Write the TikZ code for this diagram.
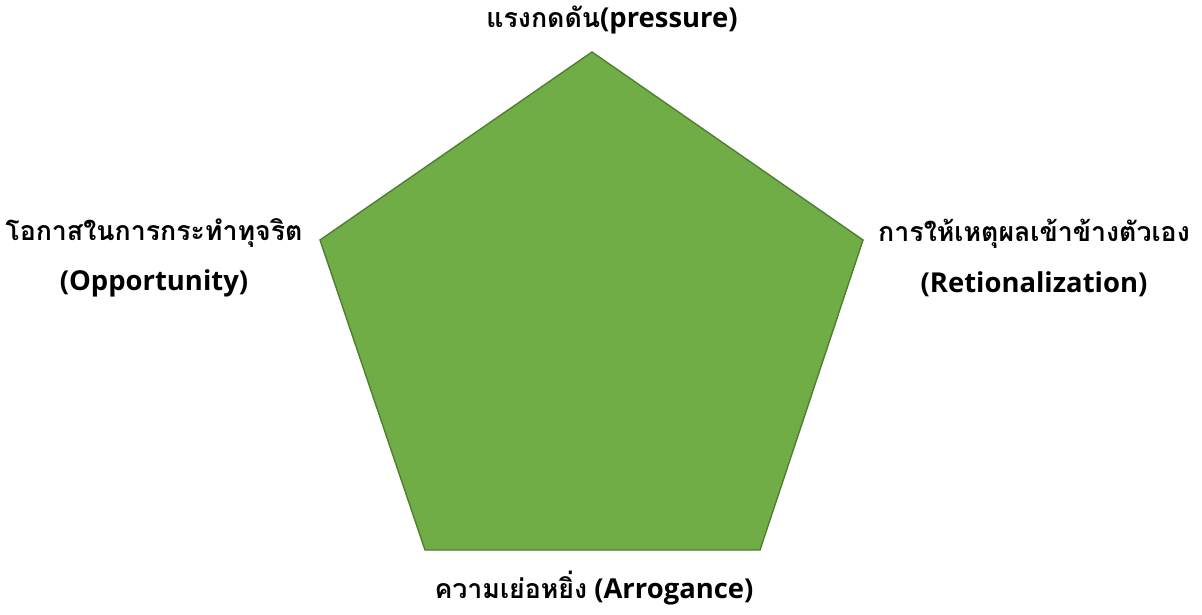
\documentclass[tikz,border=0pt]{standalone}
\usepackage{fontspec}
\setmainfont{Open Sans}
\newfontfamily\thaifont[Script=Thai]{Loma}
\newcommand{\thtxt}[1]{{\thaifont\bfseries\fontsize{19}{36}\selectfont #1}}
\definecolor{penfill}{HTML}{70AD47}
\definecolor{penline}{HTML}{507E32}
\begin{document}
\begin{tikzpicture}[x=0.025cm,y=-0.025cm,
    lbl/.style={font=\fontsize{19.5}{36}\selectfont\bfseries, align=center, inner sep=0pt}]

    \useasboundingbox (0,0) rectangle (1202,615);

    % --- corners of the pentagon ---
    \coordinate (top) at (592,52);
    \coordinate (rgt) at (863,240);
    \coordinate (br) at (760,550);
    \coordinate (bl) at (425,550);
    \coordinate (lft) at (320,240);

    \draw[fill=penfill, draw=penline, line width=1pt, line join=miter]
        (top) -- (rgt) -- (br) -- (bl) -- (lft) -- cycle;

    % --- labels at the corners ---
    \node[lbl] (pres) at (612,20) {\thtxt{แรงกดดัน}(pressure)};
    \node[lbl] (opp) at (154,258) {\thtxt{โอกาสในการกระทำทุจริต}\\(Opportunity)};
    \node[lbl] (ret) at (1034,258) {\thtxt{การให้เหตุผลเข้าข้างตัวเอง}\\(Retionalization)};
    \node[lbl] (arr) at (594,588) {\thtxt{ความเย่อหยิ่ง} (Arrogance)};
\end{tikzpicture}
\end{document}
